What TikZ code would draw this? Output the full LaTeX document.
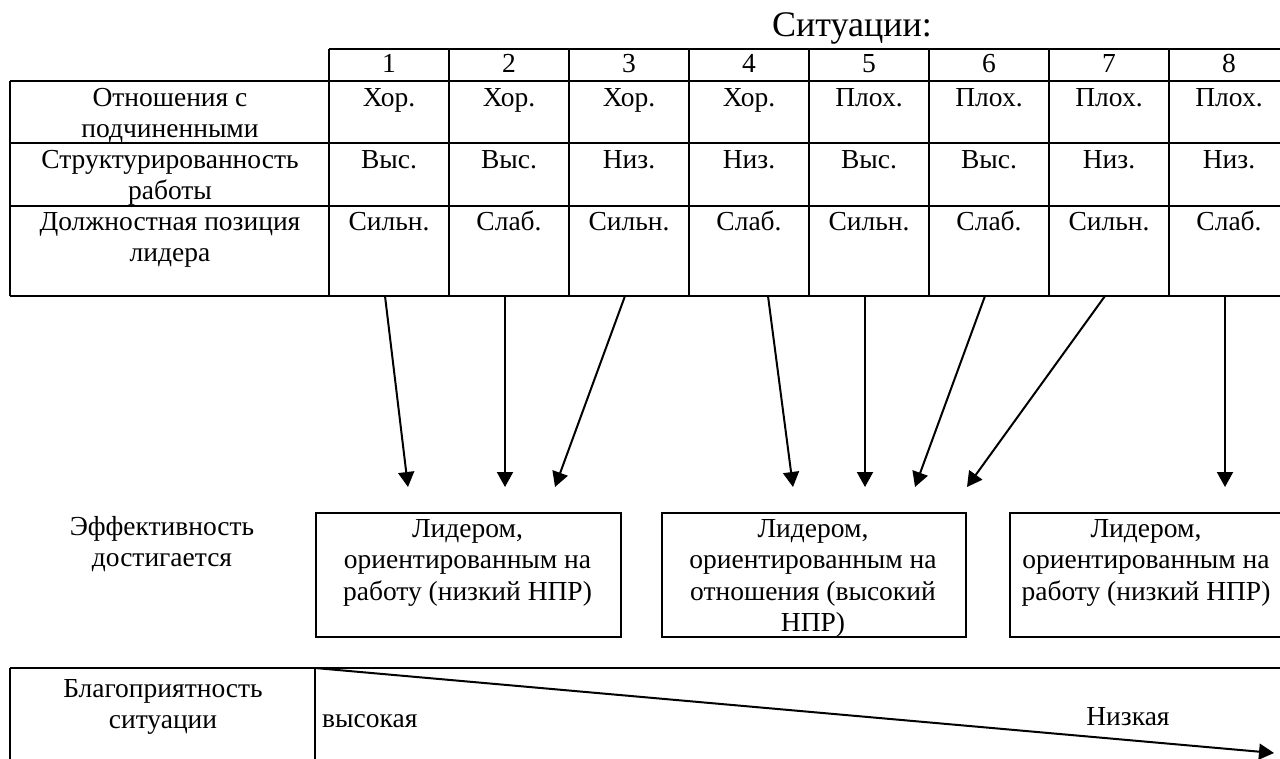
\documentclass[tikz,border=0pt]{standalone}
\usepackage{fontspec}
\setmainfont{Liberation Serif}
\usetikzlibrary{arrows.meta}
\newcommand\fsz{\fontsize{27.5}{31.5}\selectfont}
\newcommand\fbig{\fontsize{36}{40}\selectfont}
\begin{document}
\begin{tikzpicture}[x=1pt,y=-1pt,
  ln/.style={line width=2pt},
  txt/.style={inner sep=0pt, align=center, anchor=north, font=\fsz},
  boxnode/.style={draw, line width=2pt, inner sep=0pt, anchor=north west},
  arr/.style={line width=2pt, -{Triangle[length=15pt,width=16pt]}}]
\clip (0,0) rectangle (1280,759);
% title
\node[inner sep=0pt, anchor=base, font=\fbig] (title) at (852,37) {Ситуации:};
% table grid
\draw[ln] (329,49) -- (1300,49);
\draw[ln] (10,81) -- (1300,81);
\draw[ln] (10,143) -- (1300,143);
\draw[ln] (10,206) -- (1300,206);
\draw[ln] (10,296) -- (1300,296);
\draw[ln] (10,81) -- (10,296);
\foreach \x in {329,449,569,689,809,929,1049,1169,1289}
  \draw[ln] (\x,49) -- (\x,296);
% header numbers
\foreach \n [count=\i] in {1,...,8}
  \node[txt] (h\i) at ({329+120*\i-60},50) {\strut\n};
% row labels
\node[txt] (r1) at (170,84) {\strut Отношения с\\подчиненными};
\node[txt] (r2) at (170,146) {\strut Структурированность\\работы};
\node[txt] (r3) at (170,208) {\strut Должностная позиция\\лидера};
% values
\foreach \v [count=\i] in {Хор.,Хор.,Хор.,Хор.,Плох.,Плох.,Плох.,Плох.}
  \node[txt] (a\i) at ({329+120*\i-60},84) {\strut\v};
\foreach \v [count=\i] in {Выс.,Выс.,Низ.,Низ.,Выс.,Выс.,Низ.,Низ.}
  \node[txt] (b\i) at ({329+120*\i-60},146) {\strut\v};
\foreach \v [count=\i] in {Сильн.,Слаб.,Сильн.,Слаб.,Сильн.,Слаб.,Сильн.,Слаб.}
  \node[txt] (c\i) at ({329+120*\i-60},208) {\strut\v};
% arrow ends
\coordinate (s1) at (385,296);  \coordinate (t1) at (408,487);
\coordinate (s2) at (505,296);  \coordinate (t2) at (505,487);
\coordinate (s3) at (625,296);  \coordinate (t3) at (555,487);
\coordinate (s4) at (768,296);  \coordinate (t4) at (793,487);
\coordinate (s5) at (865,296);  \coordinate (t5) at (865,487);
\coordinate (s6) at (985,296);  \coordinate (t6) at (915,487);
\coordinate (s7) at (1105,296); \coordinate (t7) at (967,487);
\coordinate (s8) at (1225,296); \coordinate (t8) at (1225,487);
\foreach \i in {1,...,8} \draw[arr] (s\i) -- (t\i);
% effectiveness
\node[txt] (eff) at (162,513) {\strut Эффективность\\достигается};
\node[boxnode, minimum width=305pt, minimum height=124pt] (box1) at (315,512) {};
\node[boxnode, minimum width=304pt, minimum height=124pt] (box2) at (661,512) {};
\node[boxnode, minimum width=290pt, minimum height=124pt] (box3) at (1009,512) {};
\node[txt] (bt1) at (467.5,515) {\strut Лидером,\\ориентированным на\\работу (низкий НПР)};
\node[txt] (bt2) at (813,515) {\strut Лидером,\\ориентированным на\\отношения (высокий\\НПР)};
\node[txt] (bt3) at (1146,515) {\strut Лидером,\\ориентированным на\\работу (низкий НПР)};
% favourability
\draw[ln] (10,668) -- (1300,668);
\draw[ln] (10,668) -- (10,780);
\draw[ln] (315,668) -- (315,780);
\node[txt] (fav) at (163,675) {\strut Благоприятность\\ситуации};
\node[inner sep=0pt, anchor=base west, font=\fsz] (hi) at (322,727) {высокая};
\node[inner sep=0pt, anchor=base, font=\fsz] (lo) at (1128,725) {Низкая};
\coordinate (d0) at (315,668);
\coordinate (d1) at (1274,753);
\draw[arr] (d0) -- (d1);
\end{tikzpicture}
\end{document}
